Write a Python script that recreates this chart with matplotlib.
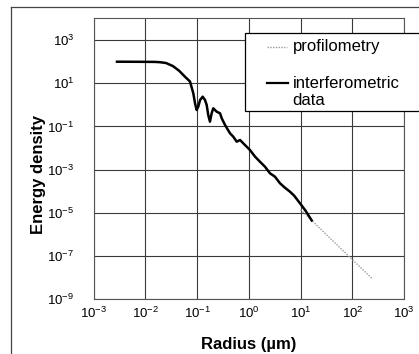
import numpy as np
import matplotlib
matplotlib.use("Agg")
import matplotlib.pyplot as plt
from matplotlib.lines import Line2D
from matplotlib.patches import Rectangle

plt.rcParams['font.family'] = ['Liberation Sans', 'DejaVu Sans']
plt.rcParams['mathtext.fontset'] = 'custom'
plt.rcParams['mathtext.rm'] = 'Liberation Sans'
plt.rcParams['mathtext.it'] = 'Liberation Sans:italic'
plt.rcParams['mathtext.bf'] = 'Liberation Sans:bold'

# interferometric data (radius in um, energy density)
interf_radius = [0.00282, 0.00785, 0.0150, 0.0191, 0.0251, 0.0341, 0.0447, 0.0582,
                 0.0728, 0.0843, 0.0910,
                 0.0979, 0.105, 0.114, 0.128, 0.142, 0.153, 0.164, 0.177, 0.191,
                 0.205, 0.239, 0.277, 0.299, 0.346, 0.432, 0.500, 0.582, 0.675,
                 0.841, 1.05, 1.32, 1.64, 2.05, 2.56, 3.20, 4.00, 5.0, 6.24, 7.5,
                 9.75, 12.5, 16.4]
interf_energy = [99.1, 98.0, 97.0, 94.0, 86.0, 62.0, 38.0, 20.0,
                 12.0, 3.42, 1.18,
                 0.577, 0.818, 1.67, 2.38, 1.67, 0.982, 0.338, 0.166, 0.406,
                 0.690, 0.481, 0.406, 0.238, 0.117, 0.0482, 0.0335, 0.0197, 0.0236,
                 0.0138, 0.00813, 0.00398, 0.00233, 0.00137, 6.79e-4, 4.72e-4, 2.34e-4,
                 1.45e-4, 9.55e-5, 6.3e-5, 2.77e-5, 1.25e-5, 4.47e-6]

# profilometry
prof_radius = [10.0, 16.4, 100.0, 240.0]
prof_energy = [1.4e-5, 4.47e-6, 6.9e-8, 9.3e-9]

x_ticks = [1e-3, 1e-2, 1e-1, 1e0, 1e1, 1e2, 1e3]
x_tick_labels = [r'$10^{-3}$', r'$10^{-2}$', r'$10^{-1}$', r'$10^{0}$', r'$10^{1}$', r'$10^{2}$', r'$10^{3}$']
y_ticks = [1e-9, 1e-7, 1e-5, 1e-3, 1e-1, 1e1, 1e3]
y_tick_labels = [r'$10^{-9}$', r'$10^{-7}$', r'$10^{-5}$', r'$10^{-3}$', r'$10^{-1}$', r'$10^{1}$', r'$10^{3}$']

W, H = 419, 354
fig = plt.figure(figsize=(W / 100, H / 100), dpi=100)
ax = fig.add_axes([93.7 / W, 1 - 299.3 / H, (404 - 93.7) / W, (299.3 - 18.4) / H])

ax.set_xscale('log')
ax.set_yscale('log')
ax.set_xlim(1e-3, 1e3)
ax.set_ylim(1e-9, 1e4)

ax.plot(prof_radius, prof_energy, color='#9a9a9a', lw=1.0, linestyle=(0, (1, 1)), zorder=3)
ax.plot(interf_radius, interf_energy, color='black', lw=1.8, zorder=4)

ax.set_xticks(x_ticks)
ax.set_xticklabels(x_tick_labels)
ax.set_yticks(y_ticks)
ax.set_yticklabels(y_tick_labels)
ax.minorticks_off()
ax.tick_params(axis='both', length=0, labelsize=9.5)
ax.tick_params(axis='x', pad=5)
ax.tick_params(axis='y', pad=14)
ax.grid(True, color='#3a3a3a', lw=0.8)
for s in ax.spines.values():
    s.set_color('#555555')
    s.set_linewidth(0.8)

ax.set_xlabel('Radius (µm)', fontsize=12, fontweight='bold')
ax.xaxis.set_label_coords((249 - 93.7) / 310.3, (299.3 - 345) / 280.9)
ax.xaxis.label.set_va('center')
ax.set_ylabel('Energy density', fontsize=12, fontweight='bold')
ax.yaxis.set_label_coords((38 - 93.7) / 310.3, (299.3 - 174) / 280.9)
ax.yaxis.label.set_va('center')

# legend (manual, figure pixel coordinates)
def fx(px):
    return px / W

def fy(py):
    return 1 - py / H

fig.patches.append(Rectangle((fx(245), fy(111)), fx(180), (111 - 33) / H, transform=fig.transFigure,
                             facecolor='white', edgecolor='black', lw=0.9, zorder=5))
fig.lines.append(Line2D([fx(266.7), fx(287)], [fy(46.7), fy(46.7)], transform=fig.transFigure,
                        color='#9a9a9a', lw=1.0, linestyle=(0, (1, 1)), zorder=6))
fig.lines.append(Line2D([fx(266.7), fx(288)], [fy(83), fy(83)], transform=fig.transFigure,
                        color='black', lw=1.6, zorder=6))
fig.text(fx(292.7), fy(46.7), 'profilometry', fontsize=12, va='center', ha='left', zorder=7)
fig.text(fx(292.7), fy(83), 'interferometric', fontsize=12, va='center', ha='left', zorder=7)
fig.text(fx(292.7), fy(100), 'data', fontsize=12, va='center', ha='left', zorder=7)

# outer frame lines
fig.lines.append(Line2D([fx(11), fx(11)], [fy(7), fy(354)], transform=fig.transFigure, color='#444444', lw=0.9))
fig.lines.append(Line2D([fx(11), fx(419)], [fy(7), fy(7)], transform=fig.transFigure, color='#444444', lw=0.9))

fig.savefig('out.png', dpi=100)
